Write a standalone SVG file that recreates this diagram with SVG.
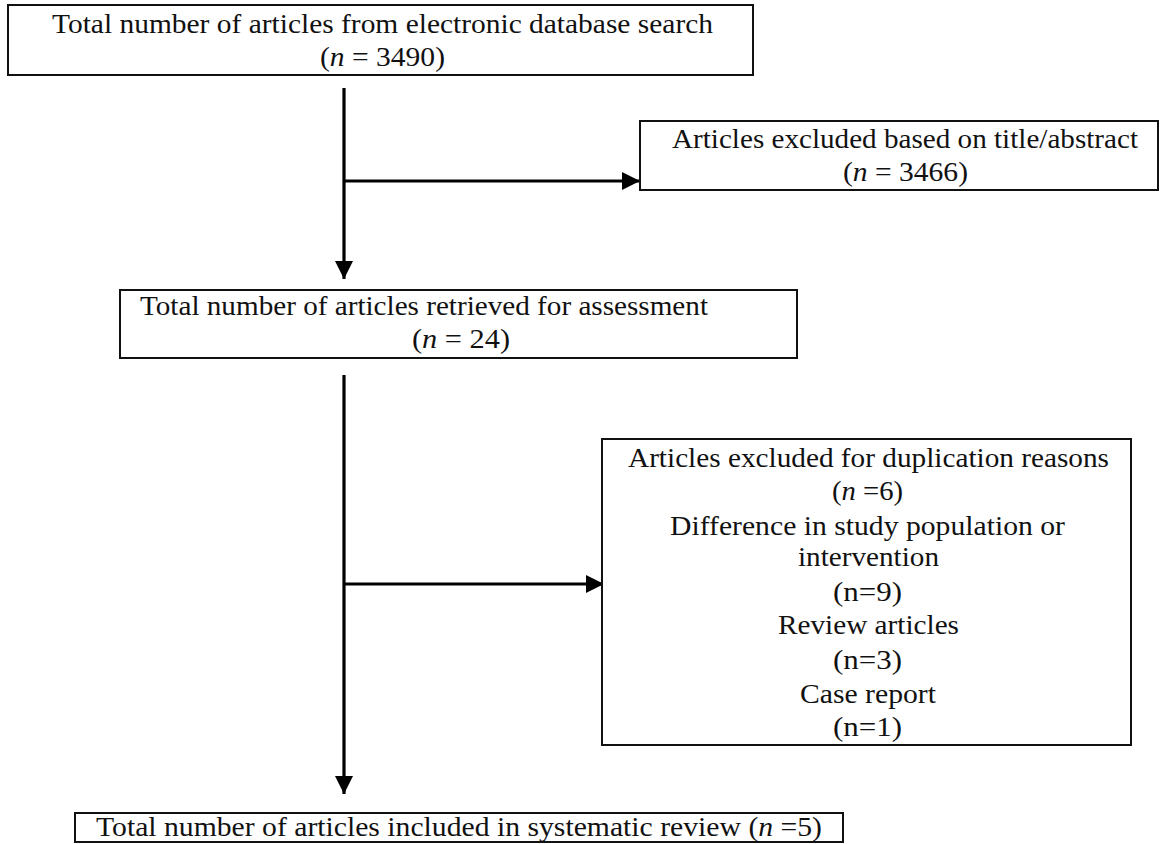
<svg xmlns="http://www.w3.org/2000/svg" width="1161" height="844" viewBox="0 0 1161 844">
<style>
.box{fill:#fff;stroke:#111;stroke-width:2}
.t{font-family:"Times New Roman","Liberation Serif",Tinos,"Nimbus Roman",Times,serif;font-size:27px;fill:#111}
.i{font-style:italic}
.ln{stroke:#000;stroke-width:3.2;fill:none}
</style>
<defs>
<marker id="ah" markerUnits="userSpaceOnUse" markerWidth="20" markerHeight="18" refX="18" refY="9" orient="auto">
<path d="M0,0 L18,9 L0,18 Z" fill="#000"/>
</marker>
</defs>
<rect width="1161" height="844" fill="#fff"/>
<g id="connectors">
<line class="ln" x1="344" y1="88" x2="344" y2="279" marker-end="url(#ah)"/>
<line class="ln" x1="344" y1="181" x2="640" y2="181" marker-end="url(#ah)"/>
<line class="ln" x1="344" y1="375" x2="344" y2="794" marker-end="url(#ah)"/>
<line class="ln" x1="344" y1="584" x2="604" y2="584" marker-end="url(#ah)"/>
</g>
<g id="n1">
<rect class="box" x="8" y="5" width="745" height="70"/>
<text class="t" x="52" y="33" textLength="661" lengthAdjust="spacingAndGlyphs">Total number of articles from electronic database search</text>
<text class="t" x="320" y="66" textLength="125" lengthAdjust="spacingAndGlyphs">(<tspan class="i">n</tspan> = 3490)</text>
</g>
<g id="n2">
<rect class="box" x="640" y="121" width="518" height="69"/>
<text class="t" x="672" y="148" textLength="466" lengthAdjust="spacingAndGlyphs">Articles excluded based on title/abstract</text>
<text class="t" x="843" y="181" textLength="125" lengthAdjust="spacingAndGlyphs">(<tspan class="i">n</tspan> = 3466)</text>
</g>
<g id="n3">
<rect class="box" x="120" y="290" width="677" height="68"/>
<text class="t" x="140" y="315" textLength="568" lengthAdjust="spacingAndGlyphs">Total number of articles retrieved for assessment</text>
<text class="t" x="412" y="348" textLength="98" lengthAdjust="spacingAndGlyphs">(<tspan class="i">n</tspan> = 24)</text>
</g>
<g id="n4">
<rect class="box" x="602" y="439" width="529" height="306"/>
<text class="t" x="628" y="467" textLength="481" lengthAdjust="spacingAndGlyphs">Articles excluded for duplication reasons</text>
<text class="t" x="832" y="500" textLength="71" lengthAdjust="spacingAndGlyphs">(<tspan class="i">n</tspan> =6)</text>
<text class="t" x="670" y="535" textLength="395" lengthAdjust="spacingAndGlyphs">Difference in study population or</text>
<text class="t" x="798" y="566" textLength="141" lengthAdjust="spacingAndGlyphs">intervention</text>
<text class="t" x="833" y="601" textLength="69" lengthAdjust="spacingAndGlyphs">(n=9)</text>
<text class="t" x="778" y="634" textLength="181" lengthAdjust="spacingAndGlyphs">Review articles</text>
<text class="t" x="833" y="669" textLength="69" lengthAdjust="spacingAndGlyphs">(n=3)</text>
<text class="t" x="800" y="703" textLength="136" lengthAdjust="spacingAndGlyphs">Case report</text>
<text class="t" x="833" y="736" textLength="69" lengthAdjust="spacingAndGlyphs">(n=1)</text>
</g>
<g id="n5">
<rect class="box" x="75" y="813" width="768" height="29"/>
<text class="t" x="96" y="836" textLength="726" lengthAdjust="spacingAndGlyphs">Total number of articles included in systematic review (<tspan class="i">n</tspan> =5)</text>
</g>
</svg>
